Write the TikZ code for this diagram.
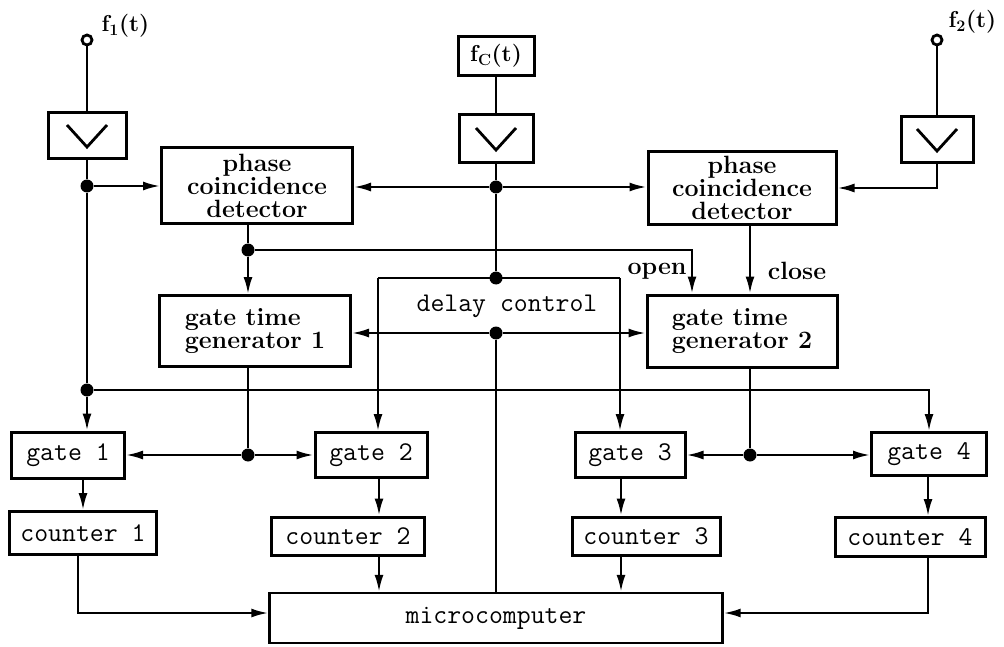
\documentclass[tikz,border=0pt]{standalone}
\usepackage{fontspec}
\usetikzlibrary{arrows.meta,calc}
\begin{document}
\begin{tikzpicture}[x=1pt,y=-1pt,
  box/.style={draw,line width=3pt,inner sep=0pt},
  wire/.style={line width=2.3pt},
  arr/.style={wire,-{Latex[length=17pt,width=9pt]}},
  jdot/.style={circle,fill,inner sep=0pt,minimum size=13pt},
  term/.style={circle,draw,line width=2.8pt,inner sep=0pt,minimum size=10pt},
  bold/.style={font=\fontsize{25}{23}\selectfont\bfseries},
  mono/.style={font=\fontsize{27}{27}\selectfont\ttfamily},
  flab/.style={font=\fontsize{23}{23}\selectfont\bfseries},
]
\useasboundingbox (0,0) rectangle (1004,647);

% terminals and labels
\node[term] (t1) at (87,40) {};
\node[flab,anchor=west] (f1) at (98,26) {f\textsubscript{1}(t)};
\node[term] (t2) at (937,40) {};
\node[flab,anchor=west] (f2) at (945,22) {f\textsubscript{2}(t)};
\node[box,minimum width=76pt,minimum height=39pt,flab] (fc) at (496,56) {f\textsubscript{C}(t)};

% amplifiers
\node[box,minimum width=78pt,minimum height=46pt] (amp1) at (87,136) {};
\node[box,minimum width=74pt,minimum height=48pt] (ampC) at (496,139) {};
\node[box,minimum width=72pt,minimum height=46pt] (amp2) at (937,140) {};
\foreach \a in {amp1,ampC,amp2}
  \draw[wire,line width=2.8pt] ($(\a.center)+(-20,-11)$) -- ($(\a.center)+(0,11)$) -- ($(\a.center)+(20,-11)$);

% detectors and generators
\node[box,bold,align=center,minimum width=191pt,minimum height=76pt] (pcd1) at (257,186) {phase\\coincidence\\detector};
\node[box,bold,align=center,minimum width=188pt,minimum height=73pt] (pcd2) at (742,188) {phase\\coincidence\\detector};
\node[box,bold,align=left,minimum width=191pt,minimum height=71pt] (gtg1) at (255,331) {gate time\\generator 1};
\node[box,bold,align=left,minimum width=190pt,minimum height=72pt] (gtg2) at (742,331) {gate time\\generator 2};

% gates, counters, microcomputer
\node[box,mono,minimum width=113pt,minimum height=46pt] (gate1) at (68,455) {gate 1};
\node[box,mono,minimum width=112pt,minimum height=45pt] (gate2) at (371,455) {gate 2};
\node[box,mono,minimum width=110pt,minimum height=45pt] (gate3) at (630,455) {gate 3};
\node[box,mono,minimum width=115pt,minimum height=43pt] (gate4) at (929,454) {gate 4};
\node[box,mono,minimum width=147pt,minimum height=43pt] (counter1) at (83,533) {counter 1};
\node[box,mono,minimum width=153pt,minimum height=38pt] (counter2) at (348,536) {counter 2};
\node[box,mono,minimum width=148pt,minimum height=38pt] (counter3) at (646,536) {counter 3};
\node[box,mono,minimum width=150pt,minimum height=39pt] (counter4) at (910,537) {counter 4};
\node[box,mono,line width=2.4pt,minimum width=453pt,minimum height=50pt] (micro) at (496,618) {microcomputer};

% delay control label
\node[mono] (delay) at (507,306) {delay control};
\node[bold] (open) at (657,271) {open};
\node[bold] (close) at (797,271) {close};

% junctions
\node[jdot] (j1) at (87,186) {};
\node[jdot] (jC) at (496,187) {};
\node[jdot] (jP) at (248,250) {};
\node[jdot] (jDt) at (496,278) {};
\node[jdot] (jDb) at (496,333) {};
\node[jdot] (j5) at (87,390) {};
\node[jdot] (jG1) at (248,455) {};
\node[jdot] (jG2) at (750,455) {};

\coordinate (dTL) at (378,278);
\coordinate (dTR) at (620,278);
\coordinate (xO) at (692,0);
\coordinate (xCl) at (750,0);
\coordinate (x83) at (83,0);
\coordinate (x379) at (379,0);
\coordinate (x621) at (621,0);
\coordinate (x928) at (928,0);
\coordinate (x78) at (78,0);
\coordinate (yM) at (0,613);

% connectors
\draw[wire] (t1) -- (amp1);
\draw[wire] (amp1) -- (j1);
\draw[arr] (j1) -- (j1 -| pcd1.west);
\draw[wire] (j1) -- (j5);
\draw[arr] (j5) -- (j5 |- gate1.north);
\draw[arr] (j5) -| (gate4.north);
\draw[wire] (fc) -- (ampC);
\draw[wire] (ampC) -- (jC);
\draw[arr] (jC) -- (jC -| pcd1.east);
\draw[arr] (jC) -- (jC -| pcd2.west);
\draw[wire] (jC) -- (jDt);
\draw[wire] (t2) -- (amp2);
\draw[arr] (amp2) |- (pcd2);
\draw[wire] (jP |- pcd1.south) -- (jP);
\draw[arr] (jP) -- (jP |- gtg1.north);
\draw[arr] (jP) -| (xO |- gtg2.north);
\draw[arr] (xCl |- pcd2.south) -- (xCl |- gtg2.north);
\draw[wire] (dTL) -- (dTR);
\draw[arr] (dTL) -- (dTL |- gate2.north);
\draw[arr] (dTR) -- (dTR |- gate3.north);
\draw[arr] (jDb) -- (jDb -| gtg1.east);
\draw[arr] (jDb) -- (jDb -| gtg2.west);
\draw[wire] (jDb) -- (jDb |- micro.north);
\draw[wire] (jG1 |- gtg1.south) -- (jG1);
\draw[arr] (jG1) -- (jG1 -| gate1.east);
\draw[arr] (jG1) -- (jG1 -| gate2.west);
\draw[wire] (jG2 |- gtg2.south) -- (jG2);
\draw[arr] (jG2) -- (jG2 -| gate3.east);
\draw[arr] (jG2) -- (jG2 -| gate4.west);
\draw[arr] (x83 |- gate1.south) -- (x83 |- counter1.north);
\draw[arr] (x379 |- gate2.south) -- (x379 |- counter2.north);
\draw[arr] (x621 |- gate3.south) -- (x621 |- counter3.north);
\draw[arr] (x928 |- gate4.south) -- (x928 |- counter4.north);
\draw[arr] (x78 |- counter1.south) |- (micro.west |- yM);
\draw[arr] (x379 |- counter2.south) -- (x379 |- micro.north);
\draw[arr] (x621 |- counter3.south) -- (x621 |- micro.north);
\draw[arr] (x928 |- counter4.south) |- (micro.east |- yM);
\end{tikzpicture}
\end{document}
